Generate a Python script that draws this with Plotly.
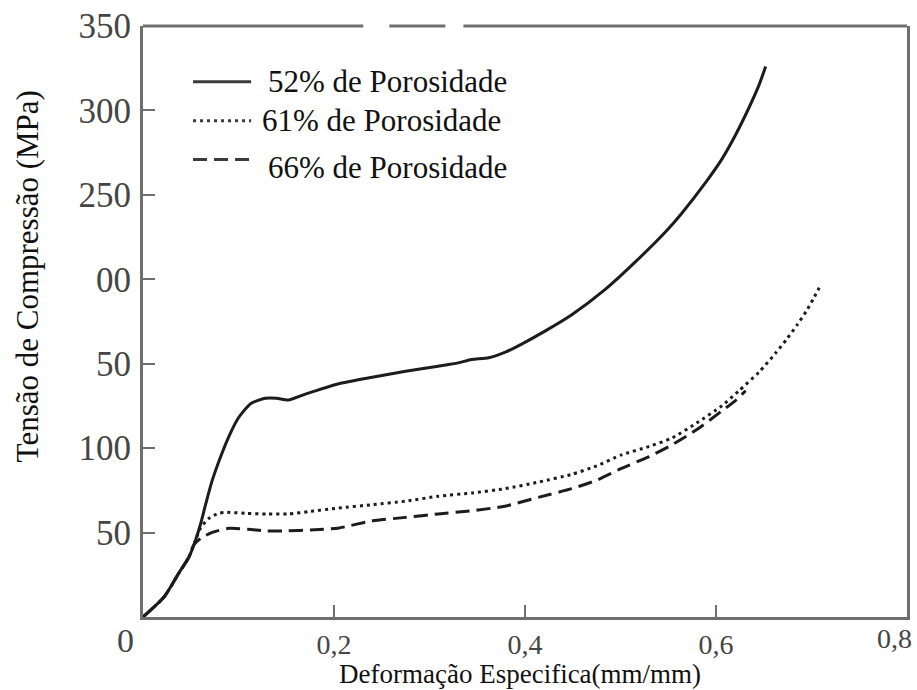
import plotly.graph_objects as go

# Stress-strain curves for three porosity levels
strain_52 = [0, 0.022, 0.0375, 0.048, 0.055, 0.0605, 0.0655, 0.072, 0.079, 0.090,
             0.100, 0.113, 0.128, 0.140, 0.152, 0.170, 0.204, 0.240, 0.275, 0.309,
             0.330, 0.344, 0.362, 0.380, 0.396, 0.420, 0.449, 0.484, 0.515, 0.547,
             0.564, 0.590, 0.606, 0.620, 0.634, 0.645, 0.652]
stress_52 = [0, 11.8, 26, 35.4, 45.5, 55.5, 66.5, 80, 91.5, 107,
             118, 126.5, 129.5, 129.5, 128.5, 132, 138, 142, 145.5, 148.5,
             150.5, 152.5, 153.5, 157, 161.5, 169, 179, 194, 210, 228,
             239, 258, 271, 285, 301, 315, 326]

strain_61 = [0, 0.022, 0.0375, 0.048, 0.055, 0.0605, 0.069, 0.079, 0.0865, 0.107,
             0.130, 0.152, 0.175, 0.204, 0.240, 0.275, 0.309, 0.345, 0.379, 0.415,
             0.449, 0.475, 0.501, 0.530, 0.554, 0.580, 0.606, 0.624, 0.645, 0.662,
             0.674, 0.685, 0.695, 0.702, 0.710]
stress_61 = [0, 11.8, 26, 35.4, 45.5, 53, 58.4, 61.4, 62, 61.4,
             61, 61, 62.5, 64.5, 66.5, 68.6, 71.5, 73.5, 76, 80,
             84.5, 89.5, 96, 101, 106, 115, 125, 134, 145, 156,
             164.5, 173, 181.5, 188.5, 197]

strain_66 = [0, 0.022, 0.0375, 0.048, 0.053, 0.0605, 0.072, 0.090, 0.110, 0.130,
             0.152, 0.175, 0.204, 0.239, 0.275, 0.309, 0.345, 0.379, 0.415, 0.449,
             0.475, 0.501, 0.530, 0.554, 0.580, 0.606, 0.620, 0.631]
stress_66 = [0, 11.8, 26, 35.4, 42.5, 46.6, 50, 52.5, 52, 51,
             51, 51.5, 52.6, 56.8, 59, 61, 63, 65.6, 71, 76,
             81, 88, 95, 102, 111, 122, 128, 134]

series_names = ["52% de Porosidade", "61% de Porosidade", "66% de Porosidade"]

x_tick_vals = [0.2, 0.4, 0.6, 0.8]
x_tick_text = ["0,2", "0,4", "0,6", ""]
y_tick_vals = [50, 100, 150, 200, 250, 300, 350]
y_tick_text = ["50", "100", "50", "00", "250", "300", "350"]

SERIF = "Liberation Serif, Times New Roman, DejaVu Serif, serif"
AXIS_GREY = "#6e6e6e"
TICK_GREY = "#454545"
CURVE = "#1c1c1c"

fig = go.Figure()
dashes = ["solid", "3px,4px", "14px,7px"]
for sx, sy, name, dash in zip([strain_52, strain_61, strain_66],
                              [stress_52, stress_61, stress_66],
                              series_names, dashes):
    fig.add_trace(go.Scatter(
        x=sx, y=sy, name=name, mode="lines", showlegend=False,
        line=dict(color=CURVE, width=3, dash=dash, shape="spline", smoothing=0.6),
    ))

fig.update_layout(
    width=917, height=690,
    margin=dict(l=143, r=7, t=24, b=73),
    paper_bgcolor="white", plot_bgcolor="white",
    font=dict(family=SERIF, color="#111"),
    xaxis=dict(
        range=[0, 0.8], showgrid=False, zeroline=False,
        showline=True, linecolor=AXIS_GREY, linewidth=3, mirror=False,
        tickmode="array", tickvals=x_tick_vals, ticktext=x_tick_text,
        ticks="inside", ticklen=12, tickwidth=2, tickcolor=AXIS_GREY,
        tickfont=dict(family=SERIF, size=28, color=TICK_GREY),
        ticklabelstandoff=0,
    ),
    yaxis=dict(
        range=[0, 350], showgrid=False, zeroline=False,
        showline=True, linecolor=AXIS_GREY, linewidth=3, mirror=True,
        tickmode="array", tickvals=y_tick_vals, ticktext=y_tick_text,
        ticks="inside", ticklen=12, tickwidth=2, tickcolor=AXIS_GREY,
        tickfont=dict(family=SERIF, size=35, color=TICK_GREY),
        ticklabelstandoff=2,
    ),
)

# Top frame, broken into three pieces
top_segments = [(0.0, 0.2883), (0.3224, 0.3958), (0.4194, 1.0)]
for a, b in top_segments:
    fig.add_shape(type="line", xref="paper", yref="paper", x0=a, x1=b, y0=1, y1=1,
                  line=dict(color=AXIS_GREY, width=3))

# Legend drawn inside the plot area
legend_rows = [(0.9056, 0.9056, 0.1612, "solid"),
               (0.8398, 0.8398, 0.1533, "3px,4px"),
               (0.7740, 0.7605, 0.1612, "14px,7px")]
for name, (ly, ty, tx, dash) in zip(series_names, legend_rows):
    fig.add_shape(type="line", xref="paper", yref="paper", x0=0.0655, x1=0.1415,
                  y0=ly, y1=ly, line=dict(color="#3a3a3a", width=3, dash=dash))
    fig.add_annotation(xref="paper", yref="paper", x=tx, y=ty, text=name,
                       showarrow=False, xanchor="left", yanchor="middle",
                       font=dict(family=SERIF, size=31, color="#111"))

# Origin label and last x label
fig.add_annotation(xref="paper", yref="paper", x=-0.023, y=-0.04, text="0",
                   showarrow=False, xanchor="center", yanchor="middle",
                   font=dict(family=SERIF, size=34, color=TICK_GREY))
fig.add_annotation(x=0.8, xref="x", yref="paper", y=-0.036, text="0,8",
                   showarrow=False, xanchor="center", yanchor="middle", xshift=-13,
                   font=dict(family=SERIF, size=28, color=TICK_GREY))

# Axis titles
fig.add_annotation(xref="paper", yref="paper", x=0.493, y=-0.097,
                   text="Deformação Especifica(mm/mm)", showarrow=False,
                   xanchor="center", yanchor="middle",
                   font=dict(family=SERIF, size=27, color="#111"))
fig.add_annotation(xref="paper", yref="paper", x=-0.15, y=0.577,
                   text="Tensão de Compressão (MPa)", showarrow=False, textangle=-90,
                   xanchor="center", yanchor="middle",
                   font=dict(family=SERIF, size=31, color="#111"))

fig.write_html("out.html")
